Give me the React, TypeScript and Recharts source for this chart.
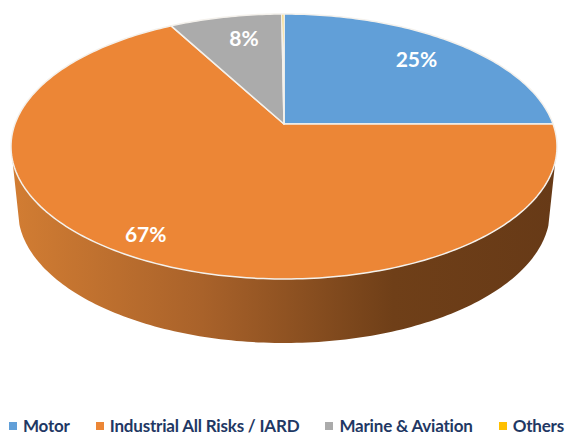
import { PieChart, Pie, Cell, Legend } from 'recharts'

const names = ['Motor', 'Industrial All Risks / IARD', 'Marine & Aviation', 'Others']
const values = [25, 67, 7.85, 0.15]
const colors = ['#619fd8', '#ec8636', '#ababab', '#ffc000']

const data = names.map((name, i) => ({ name, value: values[i] }))

// tilted disc: the apex sits above the ellipse centre, as in a perspective pie
const APEX_Y = 124
const TOP = { rx: 273, ry: 132.5, cy: 146.5 }
const BOTTOM = { rx: 266, ry: 132, cy: 211 }
const TILT = (TOP.cy - APEX_Y) / TOP.ry
const FRONT_V = -0.267

const project = (cx: number, disc: typeof TOP, u: number, v: number) => {
  const w = 1 + TILT * v
  return {
    x: cx + (disc.rx * Math.sqrt(1 - TILT * TILT) * u) / w,
    y: disc.cy - (disc.ry * v + TILT * disc.ry) / w,
  }
}

const arcPoints = (start: number, end: number) => {
  const steps = Math.max(2, Math.ceil(Math.abs(end - start)))
  const out: { u: number; v: number }[] = []
  for (let i = 0; i <= steps; i++) {
    const a = ((start + ((end - start) * i) / steps) * Math.PI) / 180
    out.push({ u: Math.cos(a), v: Math.sin(a) })
  }
  return out
}

const toPath = (pts: { x: number; y: number }[]) =>
  pts.map((p, i) => `${i ? 'L' : 'M'}${p.x.toFixed(2)},${p.y.toFixed(2)}`).join(' ') + ' Z'

const TopSector = (props: any) => {
  const { cx, startAngle, endAngle, fill } = props
  const rim = arcPoints(startAngle, endAngle).map((p) => project(cx, TOP, p.u, p.v))
  return <path d={toPath([{ x: cx, y: APEX_Y }, ...rim])} fill={fill} stroke="#f4f1ec" strokeWidth={1.5} strokeLinejoin="round" />
}

const WallSector = (props: any) => {
  const { cx, startAngle, endAngle } = props
  const front = arcPoints(startAngle, endAngle).filter((p) => p.v <= FRONT_V)
  if (front.length < 2) return null
  const upper = front.map((p) => project(cx, TOP, p.u, p.v))
  const lower = front.map((p) => project(cx, BOTTOM, p.u, p.v)).reverse()
  return <path d={toPath([...upper, ...lower])} fill="url(#wallShade)" />
}

const renderLabel = (props: any) => {
  const { cx, midAngle, percent, value } = props
  if (value < 1) return null
  const t = percent > 0.5 ? 0.88 : 0.76
  const a = (midAngle * Math.PI) / 180
  const p = project(cx, TOP, t * Math.cos(a), t * Math.sin(a))
  // the small slice label sits a bit nearer the slice centre
  const dx = percent < 0.1 ? 6 : 0
  return (
    <text x={p.x + dx} y={p.y - 2} fill="#fff" fontSize={21} fontWeight={700} fontFamily="Lato" textAnchor="middle" dominantBaseline="central">
      {`${Math.round(percent * 100)}%`}
    </text>
  )
}

const renderLegend = () => (
  <div style={{ display: 'flex', gap: 26, paddingLeft: 9, fontFamily: 'Lato', fontWeight: 700, fontSize: 17, letterSpacing: -0.2, color: '#1f3864', lineHeight: '20px', whiteSpace: 'nowrap' }}>
    {names.map((n, i) => (
      <span key={n} style={{ display: 'flex', alignItems: 'center' }}>
        <span style={{ width: 8, height: 8, background: colors[i], marginRight: 6 }} />
        {n}
      </span>
    ))}
  </div>
)

export default function App() {
  return (
    <div style={{ position: 'absolute', left: 0, top: 0 }}>
      <PieChart width={566} height={436} margin={{ top: 0, right: 0, bottom: 0, left: 0 }}>
        <defs>
          <linearGradient id="wallShade" gradientUnits="userSpaceOnUse" x1={11} y1={0} x2={557} y2={0}>
            <stop offset="0%" stopColor="#d27d33" />
            <stop offset="35%" stopColor="#a9622a" />
            <stop offset="70%" stopColor="#6f3f18" />
            <stop offset="100%" stopColor="#673a17" />
          </linearGradient>
        </defs>
        <Pie
          data={data}
          dataKey="value"
          nameKey="name"
          cx={284}
          cy={APEX_Y}
          outerRadius={273}
          startAngle={90}
          endAngle={-270}
          legendType="none"
          stroke="none"
          shape={WallSector}
          isAnimationActive={false}
        />
        <Pie
          data={data}
          dataKey="value"
          nameKey="name"
          cx={284}
          cy={APEX_Y}
          outerRadius={273}
          startAngle={90}
          endAngle={-270}
          shape={TopSector}
          label={renderLabel}
          labelLine={false}
          isAnimationActive={false}
        >
          {names.map((n, i) => (
            <Cell key={n} fill={colors[i]} />
          ))}
        </Pie>
        <Legend content={renderLegend} wrapperStyle={{ position: 'absolute', left: 0, top: 416, width: 566 }} />
      </PieChart>
    </div>
  )
}
